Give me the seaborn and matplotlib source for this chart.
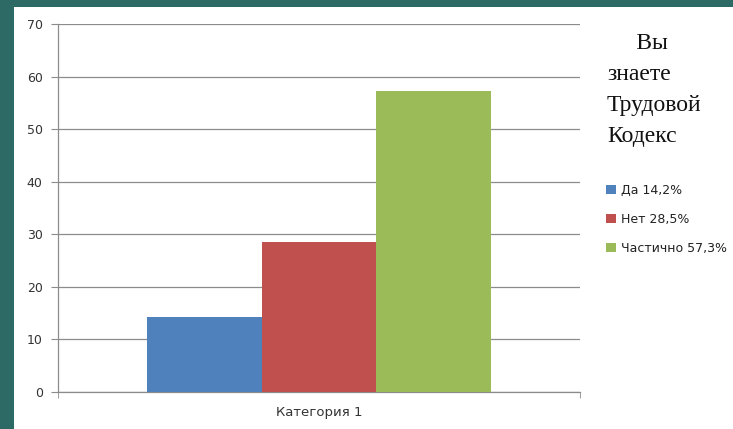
import pandas as pd
import matplotlib.pyplot as plt
import seaborn as sns

# Data
categories = ['Категория 1']
series = ['Да 14,2%', 'Нет 28,5%', 'Частично 57,3%']
values = [14.2, 28.5, 57.3]
colors = ['#4f81bd', '#c0504d', '#9bbb59']
yticks = [0, 10, 20, 30, 40, 50, 60, 70]

df = pd.DataFrame({
    'cat': categories * len(series),
    'series': series,
    'value': values,
})

sns.set_style('white')
plt.rcParams['font.family'] = ['DejaVu Sans']

fig = plt.figure(figsize=(7.33, 4.29), dpi=100)
fig.patch.set_facecolor('#2d6a65')

# white slide panel behind the chart
bg = fig.add_axes([14 / 733, 0, 1 - 14 / 733, 1 - 7 / 429], zorder=-10)
bg.set_facecolor('white')
bg.set_xticks([])
bg.set_yticks([])
for s in bg.spines.values():
    s.set_visible(False)

ax = fig.add_axes([58 / 733, 1 - 392 / 429, (580 - 58) / 733, (392 - 24) / 429])
ax.set_facecolor('none')

sns.barplot(data=df, x='cat', y='value', hue='series', palette=colors,
            saturation=1, width=0.66, ax=ax, legend=True, zorder=3,
            linewidth=0, edgecolor='none')

grid_c = '#8c8c8c'
ax.set_ylim(0, 70)
ax.set_xlim(-0.5, 0.5)
ax.set_yticks(yticks)
ax.set_yticklabels([str(t) for t in yticks], fontsize=9, color='#333333')
ax.yaxis.grid(True, color=grid_c, linewidth=0.9, zorder=0)
ax.set_axisbelow(True)
ax.tick_params(axis='y', direction='out', length=5, color=grid_c, pad=6, left=True)
ax.set_xticks([0])
ax.set_xticklabels(categories, fontsize=9.5, color='#333333')
ax.tick_params(axis='x', length=0, pad=10)
ax.set_xticks([-0.5, 0.5], minor=True)
ax.tick_params(axis='x', which='minor', direction='out', length=4, color=grid_c, bottom=True)
ax.set_xlabel('')
ax.set_ylabel('')
for s in ['top', 'right']:
    ax.spines[s].set_visible(False)
for s in ['left', 'bottom']:
    ax.spines[s].set_color(grid_c)
    ax.spines[s].set_linewidth(0.9)

# title on the right
fig.text(607 / 733, 1 - 33 / 429, '     Вы\nзнаете\nТрудовой\nКодекс',
         fontsize=17, family=['Liberation Serif'], color='#111111',
         va='top', ha='left', linespacing=1.62)

handles, labels = ax.get_legend_handles_labels()
ax.legend(handles, labels, loc='upper left', bbox_to_anchor=(600 / 733, 1 - 178 / 429),
          bbox_transform=fig.transFigure, frameon=False, fontsize=9,
          handlelength=0.75, handleheight=0.75, handletextpad=0.45,
          labelspacing=1.27, labelcolor='#222222', borderpad=0)

plt.savefig('out.png', dpi=100, facecolor=fig.get_facecolor())
